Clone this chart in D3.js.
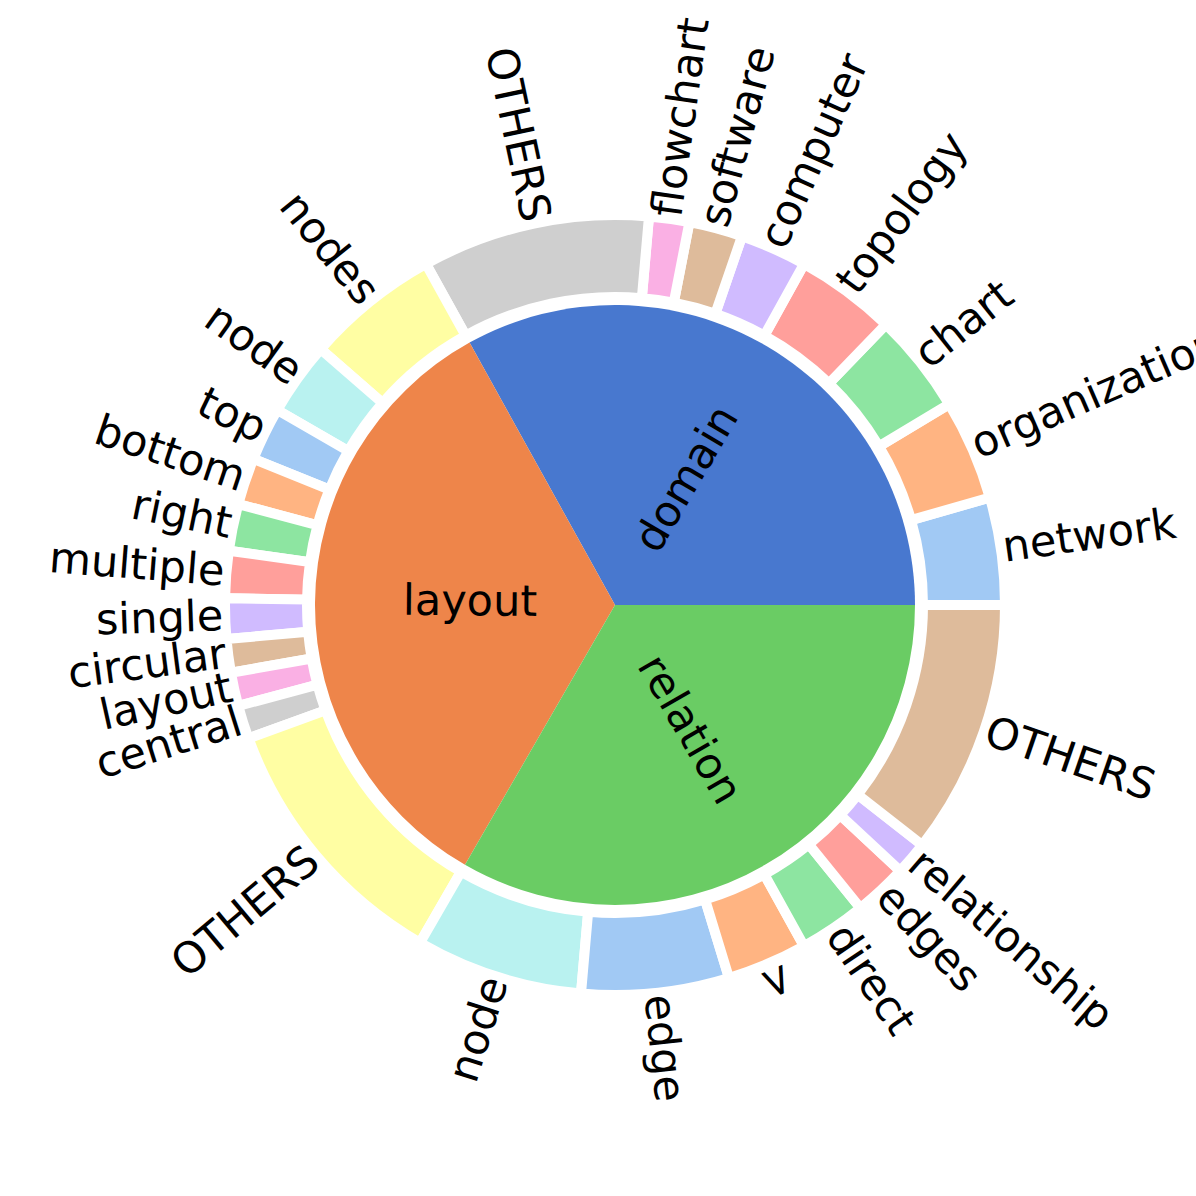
<!DOCTYPE html>
<html><head><meta charset="utf-8">
<script src="https://cdn.jsdelivr.net/npm/d3@7"></script>
<style>body{margin:0;background:#fff}</style></head>
<body><svg id="chart" width="1196" height="1196"></svg>
<script>
const groups = ["domain", "layout", "relation"];
const groupColors = ["#4878cf", "#ee854a", "#6acc64"];
const domainLabels = ["network", "organization", "chart", "topology", "computer", "software", "flowchart", "OTHERS"];
const domainValues = [16, 15, 15, 15, 10, 8, 6, 34];
const layoutLabels = ["nodes", "node", "top", "bottom", "right", "multiple", "single", "circular", "layout", "central", "OTHERS"];
const layoutValues = [20, 11, 8, 7, 7, 7, 6, 5, 5, 5, 40];
const relationLabels = ["node", "edge", ">", "direct", "edges", "relationship", "OTHERS"];
const relationValues = [25, 22, 12, 10, 8, 5, 38];
const pastel = ["#a1c9f4", "#ffb482", "#8de5a1", "#ff9f9b", "#d0bbff", "#debb9b", "#fab0e4", "#cfcfcf", "#fffea3", "#b9f2f0"];

const cx = 615, cy = 605;
const svg = d3.select("#chart");
const g = svg.append("g").attr("transform", `translate(${cx},${cy})`);

// counterclockwise from east, like matplotlib
const pie = d3.pie().sort(null).value(d => d.value).startAngle(Math.PI / 2).endAngle(Math.PI / 2 - 2 * Math.PI);

const inner = groups.map((name, i) => ({
  name, color: groupColors[i],
  value: d3.sum([domainValues, layoutValues, relationValues][i])
}));
const outer = [];
[[domainLabels, domainValues], [layoutLabels, layoutValues], [relationLabels, relationValues]].forEach(([ls, vs]) => {
  ls.forEach((l, j) => outer.push({ name: l, value: vs[j] }));
});
outer.forEach((d, i) => d.color = pastel[i % pastel.length]);

const innerArc = d3.arc().innerRadius(0).outerRadius(300);
const outerArc = d3.arc().innerRadius(308).outerRadius(390);

g.selectAll("path.in").data(pie(inner)).join("path")
  .attr("d", innerArc).attr("fill", d => d.data.color);
g.selectAll("path.out").data(pie(outer)).join("path")
  .attr("d", outerArc).attr("fill", d => d.data.color)
  .attr("stroke", "#fff").attr("stroke-width", 10);

// label helper: d3 angle -> math angle
function place(sel, r, anchorMode) {
  sel.each(function (d) {
    const theta = (d.startAngle + d.endAngle) / 2;
    const a = Math.PI / 2 - theta;
    const x = r * Math.cos(a), y = -r * Math.sin(a);
    const deg = -a * 180 / Math.PI;
    const right = Math.cos(a) >= -1e-6;
    const rot = right ? deg : deg + 180;
    d3.select(this)
      .attr("transform", `translate(${x},${y}) rotate(${rot})`)
      .attr("text-anchor", anchorMode === "middle" ? "middle" : (right ? "start" : "end"));
  });
}

g.selectAll("text.in").data(pie(inner)).join("text")
  .attr("font-family", "DejaVu Sans").attr("font-size", 43)
  .attr("dominant-baseline", "middle").text(d => d.data.name)
  .call(place, 145, "middle");
g.selectAll("text.out").data(pie(outer)).join("text")
  .attr("font-family", "DejaVu Sans").attr("font-size", 43)
  .attr("dominant-baseline", "middle").text(d => d.data.name)
  .call(place, 392, "side");
</script></body></html>
